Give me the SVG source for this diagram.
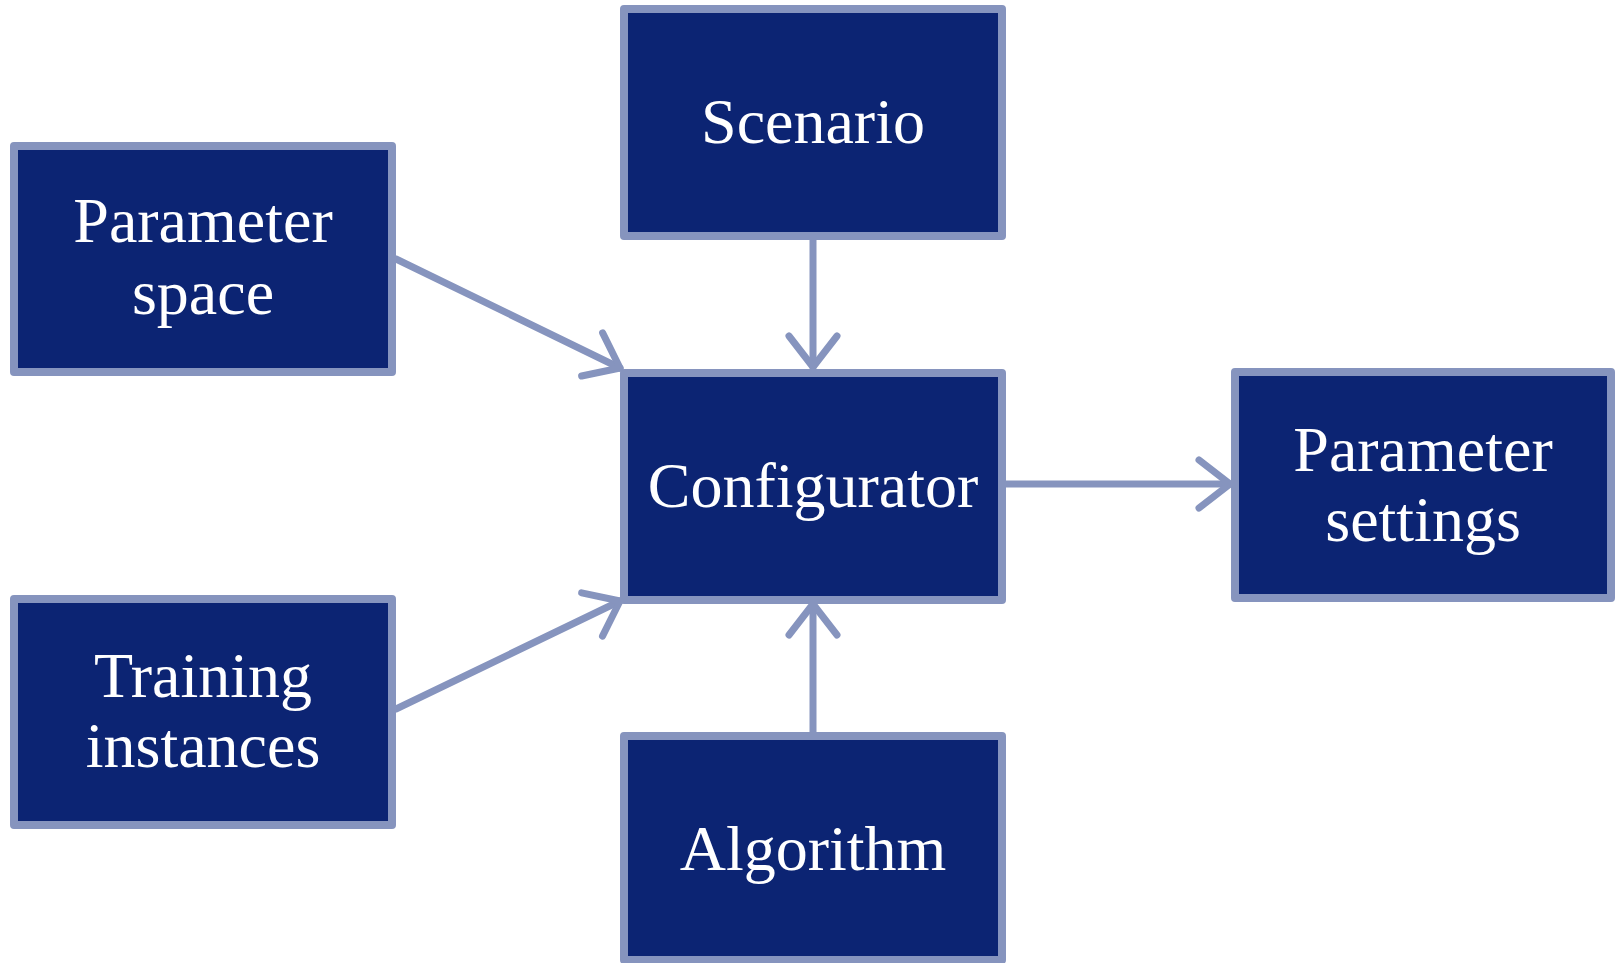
<svg xmlns="http://www.w3.org/2000/svg" width="1615" height="963" viewBox="0 0 1615 963">
<style>
.box{fill:#0c2473;stroke:#8694be;stroke-width:8;stroke-linejoin:round}
.lbl{fill:#ffffff;font-family:"Liberation Serif","Times New Roman",serif;font-size:64px;text-anchor:middle}
.conn{fill:none;stroke:#8694be;stroke-width:7;stroke-linecap:round;stroke-linejoin:round}
</style>
<defs>
<marker id="arr" markerUnits="userSpaceOnUse" markerWidth="60" markerHeight="60" refX="40" refY="30" orient="auto" viewBox="0 0 60 60">
<path d="M9,6 L40,30 L9,54" fill="none" stroke="#8694be" stroke-width="7" stroke-linecap="round" stroke-linejoin="round"/>
</marker>
</defs>
<rect width="1615" height="963" fill="#ffffff"/>
<g id="connectors">
<path class="conn" d="M813,240 L813,367" marker-end="url(#arr)"/>
<path class="conn" d="M396,259 L620,368" marker-end="url(#arr)"/>
<path class="conn" d="M396,709 L620,601" marker-end="url(#arr)"/>
<path class="conn" d="M813,734 L813,604" marker-end="url(#arr)"/>
<path class="conn" d="M1006,484 L1230,484" marker-end="url(#arr)"/>
</g>
<g id="scenario">
<rect class="box" x="624" y="9" width="378" height="227"/>
<text class="lbl" x="813" y="143">Scenario</text>
</g>
<g id="parameter-space">
<rect class="box" x="14" y="146" width="378" height="226"/>
<text class="lbl" x="203" y="242">Parameter</text>
<text class="lbl" x="203" y="314">space</text>
</g>
<g id="configurator">
<rect class="box" x="624" y="373" width="378" height="227"/>
<text class="lbl" x="813" y="507">Configurator</text>
</g>
<g id="parameter-settings">
<rect class="box" x="1235" y="372" width="376" height="226"/>
<text class="lbl" x="1423" y="471">Parameter</text>
<text class="lbl" x="1423" y="541">settings</text>
</g>
<g id="training-instances">
<rect class="box" x="14" y="599" width="378" height="226"/>
<text class="lbl" x="203" y="697">Training</text>
<text class="lbl" x="203" y="767">instances</text>
</g>
<g id="algorithm">
<rect class="box" x="624" y="736" width="378" height="224"/>
<text class="lbl" x="813" y="870">Algorithm</text>
</g>
</svg>
